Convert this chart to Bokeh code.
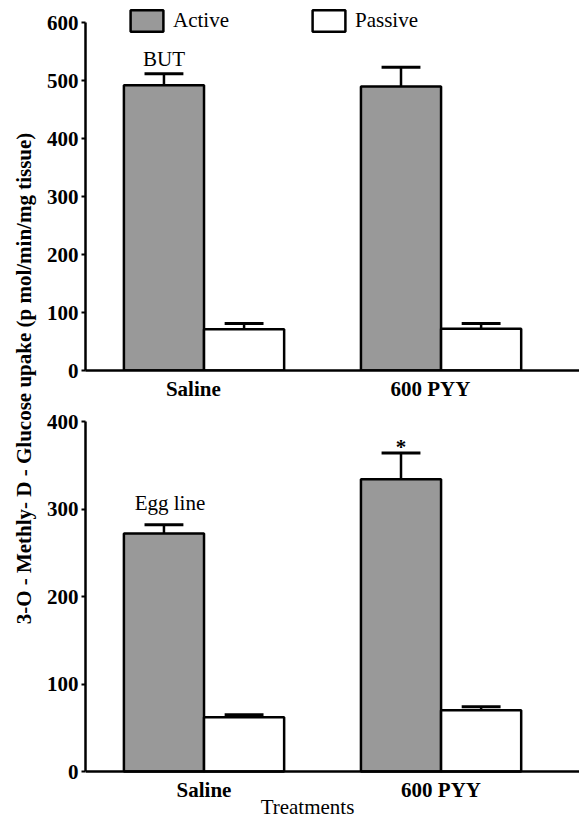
import math
from bokeh.plotting import figure
from bokeh.models import Range1d, FixedTicker, Legend, LegendItem, Label
from bokeh.layouts import row, column
from bokeh.embed import file_html
from bokeh.resources import INLINE

# ---------------- data ----------------
categories = ["Saline", "600 PYY"]
ticks_top = [0, 100, 200, 300, 400, 500, 600]
ticks_bottom = [0, 100, 200, 300, 400]

but_active = [492, 490]
but_active_err = [20, 33]
but_passive = [71, 72]
but_passive_err = [10, 9]

egg_active = [272, 334]
egg_active_err = [10, 30]
egg_passive = [62, 70]
egg_passive_err = [3, 4]

# ---------------- styles ----------------
FONT = "Liberation Serif"
GRAY = "#999999"
BAR_W = 0.338
DODGE = 0.169
CAP = 0.082
MAIN_W = 539


def make_panel(active, active_err, passive, passive_err, ystart, yend, ybound, yticks,
               height, top_border, bottom_border, tick_shift):
    p = figure(width=MAIN_W, height=height, output_backend="svg", toolbar_location=None,
               x_range=Range1d(0, 2.084), y_range=Range1d(ystart, yend),
               min_border_left=45, min_border_right=0,
               min_border_top=top_border, min_border_bottom=bottom_border)
    p.outline_line_color = None
    p.xgrid.visible = False
    p.ygrid.visible = False
    centers = [i + 0.5 for i in range(len(categories))]
    xa = [c - DODGE for c in centers]
    xp = [c + DODGE for c in centers]

    ra = p.vbar(x=xa, top=active, width=BAR_W, bottom=0, fill_color=GRAY,
                line_color="black", line_width=2.5)
    rp = p.vbar(x=xp, top=passive, width=BAR_W, bottom=0, fill_color="white",
                line_color="black", line_width=2.5)

    for xs, tops, errs in ((xa, active, active_err), (xp, passive, passive_err)):
        hi = [t + e for t, e in zip(tops, errs)]
        p.segment(x0=xs, y0=tops, x1=xs, y1=hi, line_color="black", line_width=2.5)
        p.segment(x0=[x - CAP for x in xs], y0=hi, x1=[x + CAP for x in xs], y1=hi,
                  line_color="black", line_width=3)

    tick_pos = [c + tick_shift for c in centers]
    p.xaxis.ticker = FixedTicker(ticks=tick_pos)
    p.xaxis.major_label_overrides = {t: c for t, c in zip(tick_pos, categories)}
    p.xaxis.major_tick_line_color = None
    p.xaxis.major_tick_out = 0
    p.xaxis.major_tick_in = 0
    p.xaxis.minor_tick_line_color = None
    p.xaxis.major_label_standoff = 6
    p.yaxis.ticker = FixedTicker(ticks=yticks)
    p.yaxis.bounds = (0, ybound)
    p.yaxis.major_tick_out = 4
    p.yaxis.major_tick_in = 0
    p.yaxis.major_tick_line_width = 2
    p.yaxis.minor_tick_line_color = None
    p.yaxis.major_label_standoff = 3
    for ax in (p.xaxis, p.yaxis):
        ax.axis_line_width = 2.5
        ax.axis_line_color = "black"
        ax.major_label_text_font = FONT
        ax.major_label_text_font_size = "21px"
        ax.major_label_text_font_style = "bold"
        ax.major_label_text_color = "black"
    return p, ra, rp, xa, xp


def note(p, x, y, text, y_off, x_off=0, bold=False):
    p.add_layout(Label(x=x, y=y, x_offset=x_off, y_offset=y_off, text=text,
                       text_font=FONT, text_font_size="21px",
                       text_font_style="bold" if bold else "normal",
                       text_align="center", text_baseline="middle", text_color="black"))


# ---------------- top panel (BUT) ----------------
p1, ra1, rp1, xa1, xp1 = make_panel(but_active, but_active_err, but_passive, but_passive_err,
                                    0, 628, 600, ticks_top, 404, 6, 34, -0.045)

for lbl, rend, xloc in (("Active", ra1, 41), ("Passive", rp1, 223)):
    lg = Legend(items=[LegendItem(label=lbl, renderers=[rend])], location=(xloc, 336),
                glyph_width=41, glyph_height=27, label_standoff=6, padding=0, margin=0,
                spacing=0, border_line_alpha=0, background_fill_alpha=0,
                label_text_font=FONT, label_text_font_size="21px", label_text_color="black")
    p1.add_layout(lg)

note(p1, xa1[0], but_active[0] + but_active_err[0], "BUT", 15)

# ---------------- bottom panel (Egg line) ----------------
p2, ra2, rp2, xa2, xp2 = make_panel(egg_active, egg_active_err, egg_passive, egg_passive_err,
                                    -53.7, 400, 400, ticks_bottom, 414, 17, 0, 0.0)
p2.xaxis.fixed_location = 0

note(p2, xa2[0], egg_active[0] + egg_active_err[0], "Egg line", 22, x_off=6)
note(p2, xa2[1], egg_active[1] + egg_active_err[1], "*", 6, bold=True)

p2.add_layout(Label(x=222, y=12, x_units="screen", y_units="screen",
                    text="Treatments", text_font=FONT, text_font_size="21px",
                    text_align="center", text_baseline="middle", text_color="black"))

# ---------------- shared y label ----------------
pl = figure(width=40, height=818, output_backend="svg", toolbar_location=None,
            x_axis_location=None, y_axis_location=None, min_border=0,
            x_range=Range1d(0, 1), y_range=Range1d(0, 1))
pl.outline_line_color = None
pl.grid.visible = False
pl.add_layout(Label(x=23, y=440, x_units="screen", y_units="screen",
                    text="3-O - Methly- D - Glucose upake (p mol/min/mg tissue)",
                    angle=math.pi / 2, text_font=FONT, text_font_size="21px",
                    text_font_style="bold", text_align="center", text_baseline="middle",
                    text_color="black"))

layout = row(pl, column(p1, p2, spacing=0), spacing=0)

with open("out.html", "w") as f:
    f.write(file_html(layout, INLINE))
